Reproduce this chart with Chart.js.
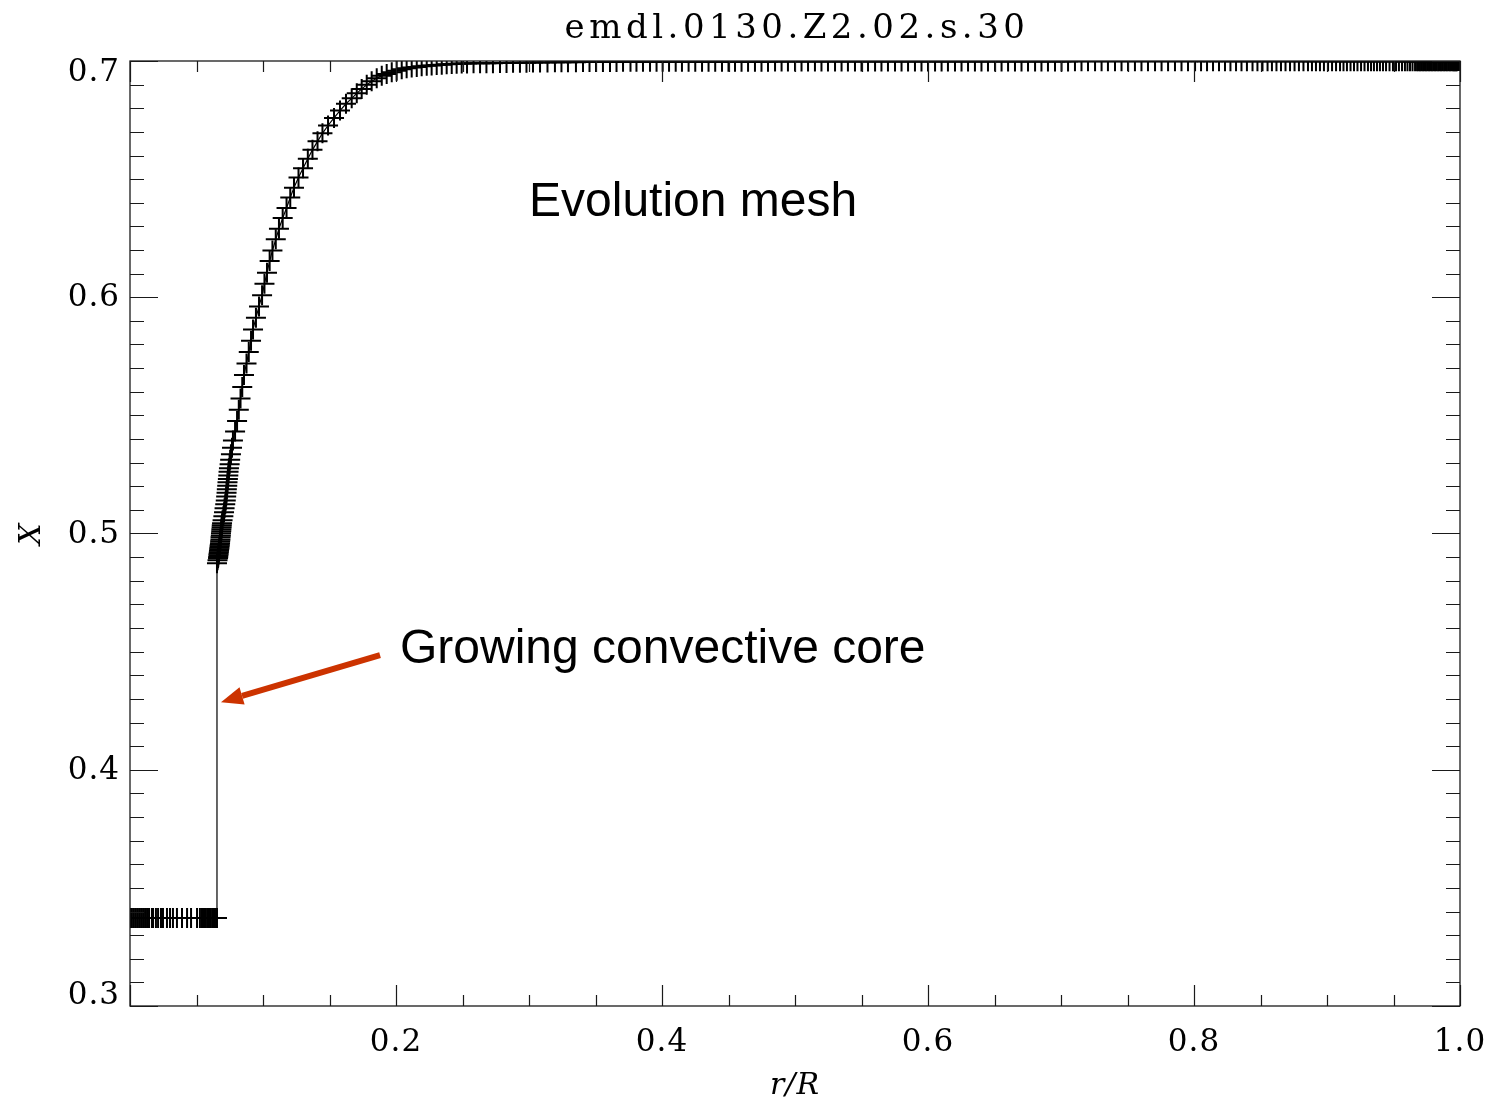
<!DOCTYPE html>
<html>
<head>
<meta charset="utf-8">
<script src="https://cdn.jsdelivr.net/npm/chart.js@4.4.1/dist/chart.umd.min.js"></script>
<style>
  html, body { margin: 0; padding: 0; background: #fff; }
  canvas { display: block; }
</style>
</head>
<body>
<canvas id="meshChart" width="1491" height="1104"></canvas>
<script>
// === DATA (r/R and hydrogen abundance X of each mesh point) ===

// convective core, flat X
const coreR = [0, 0.0010, 0.0023, 0.0038, 0.0053, 0.0068, 0.0083, 0.0098, 0.0113, 0.0128,
  0.0143, 0.0165, 0.0173, 0.0195, 0.0211, 0.0233, 0.0248, 0.0278, 0.0301, 0.0323,
  0.0353, 0.0391, 0.0429, 0.0459, 0.0504, 0.0526, 0.0541, 0.0549, 0.0560, 0.0571,
  0.0583, 0.0594, 0.0605, 0.0617, 0.0628, 0.0639, 0.0650, 0.0654];
const coreX = [0.3372, 0.3372, 0.3372, 0.3372, 0.3372, 0.3372, 0.3372, 0.3372, 0.3372, 0.3372,
  0.3372, 0.3372, 0.3372, 0.3372, 0.3372, 0.3372, 0.3372, 0.3372, 0.3372, 0.3372,
  0.3372, 0.3372, 0.3372, 0.3372, 0.3372, 0.3372, 0.3372, 0.3372, 0.3372, 0.3372,
  0.3372, 0.3372, 0.3372, 0.3372, 0.3372, 0.3372, 0.3372, 0.3372];

// composition gradient above the core
const gradR = [0.0654, 0.0658, 0.0662, 0.0663, 0.0665, 0.0666, 0.0668, 0.0669, 0.0671, 0.0672,
  0.0674, 0.0675, 0.0677, 0.0678, 0.0680, 0.0681, 0.0683, 0.0684, 0.0686, 0.0687,
  0.0689, 0.0690, 0.0692,
  0.0696, 0.0702, 0.0707, 0.0711, 0.0716, 0.0720, 0.0723, 0.0726, 0.0728, 0.0731,
  0.0733, 0.0736, 0.0739, 0.0741, 0.0744, 0.0749, 0.0753, 0.0759, 0.0767, 0.0774,
  0.0790, 0.0805, 0.0818, 0.0831, 0.0844, 0.0857, 0.0876, 0.0893, 0.0910, 0.0925,
  0.0947, 0.0970, 0.0993, 0.1011, 0.1030, 0.1050, 0.1071, 0.1096, 0.1120, 0.1148,
  0.1177, 0.1205, 0.1233, 0.1267, 0.1301, 0.1337, 0.1372, 0.1410, 0.1447, 0.1489,
  0.1534, 0.1579, 0.1624, 0.1667, 0.1705, 0.1742, 0.1780, 0.1817, 0.1855, 0.1893,
  0.1930, 0.1968, 0.2005];
const gradX = [0.4874, 0.4887, 0.4895, 0.4901, 0.4908, 0.4914, 0.4921, 0.4927, 0.4933, 0.4940,
  0.4946, 0.4952, 0.4959, 0.4967, 0.4975, 0.4984, 0.4992, 0.5001, 0.5009, 0.5018,
  0.5026, 0.5035, 0.5043,
  0.5056, 0.5073, 0.5090, 0.5107, 0.5124, 0.5140, 0.5157, 0.5172, 0.5187, 0.5202,
  0.5217, 0.5231, 0.5246, 0.5261, 0.5276, 0.5293, 0.5312, 0.5335, 0.5363, 0.5394,
  0.5432, 0.5476, 0.5524, 0.5571, 0.5620, 0.5671, 0.5720, 0.5768, 0.5816, 0.5864,
  0.5913, 0.5961, 0.6008, 0.6057, 0.6104, 0.6153, 0.6198, 0.6245, 0.6290, 0.6335,
  0.6378, 0.6422, 0.6464, 0.6507, 0.6546, 0.6586, 0.6624, 0.6660, 0.6694, 0.6727,
  0.6759, 0.6790, 0.6819, 0.6842, 0.6863, 0.6882, 0.6899, 0.6914, 0.6927, 0.6938,
  0.6945, 0.6952, 0.6959];

// envelope, X close to its initial value
const envR = [0.2043, 0.2080, 0.2118, 0.2156, 0.2193, 0.2231, 0.2268, 0.2306, 0.2344, 0.2381,
  0.2419, 0.2456, 0.2494, 0.2534,
  0.2583, 0.2632, 0.2680, 0.2729, 0.2782, 0.2831, 0.2880, 0.2932, 0.2981, 0.3030,
  0.3083, 0.3139, 0.3195, 0.3244, 0.3293, 0.3353, 0.3406, 0.3455, 0.3504, 0.3556,
  0.3609, 0.3658, 0.3707, 0.3763, 0.3808, 0.3857, 0.3910, 0.3959, 0.4005, 0.4053,
  0.4103, 0.4150, 0.4200, 0.4250, 0.4301, 0.4350, 0.4400, 0.4451, 0.4500, 0.4549,
  0.4598, 0.4647, 0.4699, 0.4748, 0.4797, 0.4850, 0.4899, 0.4947, 0.5000, 0.5049,
  0.5098, 0.5150, 0.5199, 0.5248, 0.5301, 0.5350, 0.5398, 0.5451, 0.5500, 0.5549,
  0.5602, 0.5650, 0.5699, 0.5752, 0.5801, 0.5850, 0.5902, 0.5951, 0.6000, 0.6053,
  0.6102, 0.6150, 0.6203, 0.6252, 0.6301, 0.6353, 0.6402, 0.6451, 0.6504, 0.6553,
  0.6602, 0.6654, 0.6703, 0.6752, 0.6805, 0.6853, 0.6902, 0.6955, 0.7004, 0.7053,
  0.7105, 0.7154, 0.7203, 0.7256, 0.7305, 0.7353, 0.7406, 0.7455, 0.7504, 0.7556,
  0.7605, 0.7654, 0.7707, 0.7756, 0.7805, 0.7857, 0.7906, 0.7955, 0.8008, 0.8053,
  0.8098, 0.8143, 0.8188, 0.8233, 0.8274, 0.8316, 0.8357, 0.8398, 0.8440, 0.8477,
  0.8515, 0.8553, 0.8586, 0.8620, 0.8654, 0.8688, 0.8722, 0.8756, 0.8789, 0.8823,
  0.8857, 0.8887, 0.8917, 0.8947, 0.8977, 0.9008, 0.9038, 0.9068, 0.9098, 0.9124,
  0.9150, 0.9177, 0.9203, 0.9229, 0.9256, 0.9282, 0.9308, 0.9331, 0.9353, 0.9376,
  0.9398, 0.9421, 0.9444, 0.9470, 0.9496, 0.9519, 0.9541, 0.9564, 0.9586, 0.9605,
  0.9624, 0.9643, 0.9662, 0.9677, 0.9688, 0.9699, 0.9710, 0.9722, 0.9733, 0.9744,
  0.9755, 0.9767, 0.9778, 0.9789, 0.9800, 0.9812, 0.9823, 0.9835, 0.9846, 0.9857,
  0.9868, 0.9880, 0.9891, 0.9902, 0.9914, 0.9925, 0.9936, 0.9947, 0.9955, 0.9962,
  0.9970, 0.9977, 0.9985, 0.9992, 1.0000];
const envX = [0.6965, 0.6969, 0.6972, 0.6975, 0.6978, 0.6980, 0.6981, 0.6983, 0.6984, 0.6986,
  0.6987, 0.6988, 0.6989, 0.6989,
  0.6990, 0.6990, 0.6991, 0.6991, 0.6992, 0.6992, 0.6993, 0.6993, 0.6993, 0.6994,
  0.6994, 0.6994, 0.6995, 0.6995, 0.6995, 0.6995, 0.6996, 0.6996, 0.6996, 0.6996,
  0.6996, 0.6996, 0.6997, 0.6997, 0.6997, 0.6997, 0.6997, 0.6997, 0.6997, 0.6997,
  0.6997, 0.6997, 0.6997, 0.6997, 0.6997, 0.6997, 0.6997, 0.6997, 0.6997, 0.6997,
  0.6997, 0.6997, 0.6997, 0.6997, 0.6997, 0.6998, 0.6998, 0.6998, 0.6998, 0.6998,
  0.6998, 0.6998, 0.6998, 0.6998, 0.6998, 0.6998, 0.6998, 0.6998, 0.6998, 0.6998,
  0.6998, 0.6998, 0.6998, 0.6998, 0.6998, 0.6998, 0.6998, 0.6998, 0.6998, 0.6998,
  0.6998, 0.6998, 0.6998, 0.6998, 0.6998, 0.6998, 0.6998, 0.6998, 0.6998, 0.6998,
  0.6998, 0.6998, 0.6998, 0.6998, 0.6998, 0.6998, 0.6998, 0.6998, 0.6998, 0.6998,
  0.6999, 0.6999, 0.6999, 0.6999, 0.6999, 0.6999, 0.6999, 0.6999, 0.6999, 0.6999,
  0.6999, 0.6999, 0.6999, 0.6999, 0.6999, 0.6999, 0.6999, 0.6999, 0.6999, 0.6999,
  0.6999, 0.6999, 0.6999, 0.6999, 0.6999, 0.6999, 0.6999, 0.6999, 0.6999, 0.6999,
  0.6999, 0.6999, 0.6999, 0.6999, 0.6999, 0.6999, 0.6999, 0.6999, 0.6999, 0.6999,
  0.6999, 0.6999, 0.6999, 0.6999, 0.6999, 0.6999, 0.6999, 0.6999, 0.6999, 0.6999,
  0.6999, 0.6999, 0.6999, 0.6999, 0.6999, 0.6999, 0.6999, 0.6999, 0.6999, 0.6999,
  0.6999, 0.6999, 0.6999, 0.6999, 0.6999, 0.6999, 0.6999, 0.6999, 0.6999, 0.6999,
  0.6999, 0.6999, 0.6999, 0.6999, 0.6999, 0.6999, 0.6999, 0.6999, 0.6999, 0.6999,
  0.6999, 0.6999, 0.6999, 0.6999, 0.6999, 0.6999, 0.6999, 0.6999, 0.6999, 0.6999,
  0.6999, 0.6999, 0.6999, 0.6999, 0.6999, 0.6999, 0.6999, 0.6999, 0.6999, 0.6999,
  0.6999, 0.6999, 0.7000, 0.7000, 0.7000];

// tick labels
const xTickLabels = ['0.2', '0.4', '0.6', '0.8', '1.0'];
const yTickLabels = ['0.3', '0.4', '0.5', '0.6', '0.7'];

const chartTitle = 'emdl.0130.Z2.02.s.30';
const xTitle = 'r/R';
const yTitle = 'X';
const meshNote = 'Evolution mesh';
const coreNote = 'Growing convective core';

// === BUILD POINTS ===
function toPoints(rs, xs) {
  const n = Math.min(rs.length, xs.length);
  const pts = [];
  for (let i = 0; i < n; i++) pts.push({ x: rs[i], y: xs[i] });
  return pts;
}
const meshPoints = [
  ...toPoints(coreR, coreX),
  ...toPoints(gradR, gradX),
  ...toPoints(envR, envX)
];

// === IDL STYLE AXES, LABELS AND NOTES ===
const idlAxes = {
  id: 'idlAxes',
  afterDraw(chart) {
    const { ctx, chartArea: a, scales: { x, y } } = chart;
    ctx.save();

    // box
    ctx.strokeStyle = '#1a1a1a';
    ctx.lineWidth = 1.3;
    ctx.strokeRect(a.left, a.top, a.right - a.left, a.bottom - a.top);

    // x ticks (minor every 0.05, major every 0.2), pointing inward top and bottom
    ctx.lineWidth = 1.2;
    ctx.beginPath();
    for (let i = 0; i <= 20; i++) {
      const px = Math.round(x.getPixelForValue(i * 0.05)) + 0.5;
      const len = i % 4 === 0 ? 21 : 11;
      ctx.moveTo(px, a.bottom); ctx.lineTo(px, a.bottom - len);
      ctx.moveTo(px, a.top); ctx.lineTo(px, a.top + len);
    }
    // y ticks (minor every 0.01, major every 0.1), left and right
    for (let i = 0; i <= 40; i++) {
      const py = Math.round(y.getPixelForValue(0.3 + i * 0.01)) + 0.5;
      const len = i % 10 === 0 ? 28 : 14;
      ctx.moveTo(a.left, py); ctx.lineTo(a.left + len, py);
      ctx.moveTo(a.right, py); ctx.lineTo(a.right - len, py);
    }
    ctx.stroke();

    // tick labels
    ctx.fillStyle = '#000';
    ctx.font = '31px "DejaVu Serif"';
    ctx.letterSpacing = '1px';
    ctx.textAlign = 'center';
    ctx.textBaseline = 'middle';
    xTickLabels.forEach(t => {
      ctx.fillText(t, x.getPixelForValue(parseFloat(t)), a.bottom + 37);
    });
    ctx.textAlign = 'right';
    yTickLabels.forEach(t => {
      let py = y.getPixelForValue(parseFloat(t));
      py = Math.min(Math.max(py, a.top + 11), a.bottom - 11);
      ctx.fillText(t, a.left - 10, py + 1);
    });

    // axis titles
    ctx.textAlign = 'center';
    ctx.font = 'italic 30px "DejaVu Serif"';
    ctx.fillText(xTitle, (a.left + a.right) / 2, a.bottom + 80);
    ctx.save();
    ctx.translate(32, (a.top + a.bottom) / 2);
    ctx.rotate(-Math.PI / 2);
    ctx.fillText(yTitle, 0, 0);
    ctx.restore();

    // title
    ctx.font = '34px "DejaVu Serif"';
    ctx.letterSpacing = '4.5px';
    ctx.fillText(chartTitle, (a.left + a.right) / 2 + 2, 29);
    ctx.letterSpacing = '0px';

    // notes
    ctx.font = '48px "Liberation Sans"';
    ctx.textAlign = 'left';
    ctx.textBaseline = 'alphabetic';
    ctx.fillText(meshNote, x.getPixelForValue(0.300), y.getPixelForValue(0.6342));
    ctx.fillText(coreNote, x.getPixelForValue(0.203), y.getPixelForValue(0.4451));

    // arrow pointing to the core edge
    const x0 = x.getPixelForValue(0.188), y0 = y.getPixelForValue(0.4485);
    const x1 = x.getPixelForValue(0.0684), y1 = y.getPixelForValue(0.4286);
    const ang = Math.atan2(y1 - y0, x1 - x0);
    const head = 22, half = 9;
    const bx = x1 - head * Math.cos(ang), by = y1 - head * Math.sin(ang);
    ctx.strokeStyle = '#cc3300';
    ctx.fillStyle = '#cc3300';
    ctx.lineWidth = 6;
    ctx.beginPath();
    ctx.moveTo(x0, y0);
    ctx.lineTo(bx, by);
    ctx.stroke();
    ctx.beginPath();
    ctx.moveTo(x1, y1);
    ctx.lineTo(bx + half * Math.sin(ang), by - half * Math.cos(ang));
    ctx.lineTo(bx - half * Math.sin(ang), by + half * Math.cos(ang));
    ctx.closePath();
    ctx.fill();

    ctx.restore();
  }
};

// === CHART ===
const ctx = document.getElementById('meshChart').getContext('2d');
new Chart(ctx, {
  type: 'scatter',
  data: {
    datasets: [{
      label: 'mesh',
      data: meshPoints,
      showLine: true,
      tension: 0,
      borderColor: '#000',
      borderWidth: 1.2,
      pointStyle: 'cross',
      pointRadius: 10,
      pointBorderWidth: 2,
      pointBorderColor: '#000',
      pointBackgroundColor: '#000'
    }]
  },
  options: {
    responsive: false,
    animation: false,
    devicePixelRatio: 1,
    layout: { padding: { left: 130, right: 31, top: 61, bottom: 98 } },
    plugins: { legend: { display: false }, tooltip: { enabled: false } },
    scales: {
      x: { type: 'linear', min: 0, max: 1, display: false },
      y: { type: 'linear', min: 0.3, max: 0.7, display: false }
    }
  },
  plugins: [idlAxes]
});
</script>
</body>
</html>
